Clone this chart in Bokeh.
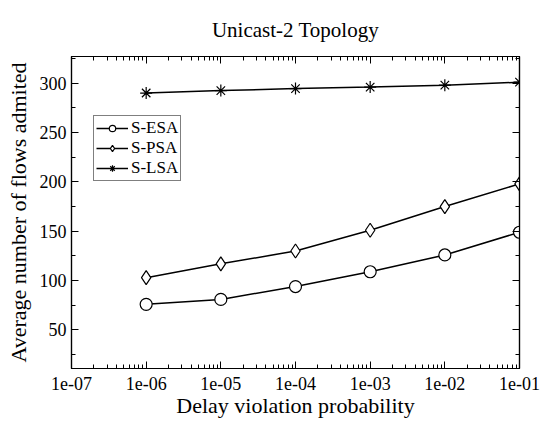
from bokeh.plotting import figure
from bokeh.models import (ColumnDataSource, LinearAxis, LogAxis, FixedTicker, Title,
                          SingleIntervalTicker, CustomJSTickFormatter, Legend, LegendItem, Range1d)
from bokeh.embed import file_html
from bokeh.resources import INLINE

# ---- data ----
x_values = [1e-6, 1e-5, 1e-4, 1e-3, 1e-2, 1e-1]
s_esa = [76, 81, 94, 109, 126, 149]
s_psa = [103, 117, 130, 151, 175, 198]
s_lsa = [290, 292.5, 294.5, 296, 298, 301]

x_ticks = [1e-7, 1e-6, 1e-5, 1e-4, 1e-3, 1e-2, 1e-1]
x_tick_labels = ["1e-07", "1e-06", "1e-05", "1e-04", "1e-03", "1e-02", "1e-01"]
y_ticks = [50, 100, 150, 200, 250, 300]

title_text = "Unicast-2 Topology"
x_label = "Delay violation probability"
y_label = "Average number of flows admited"
series_names = ["S-ESA", "S-PSA", "S-LSA"]

FONT = "Liberation Serif"

minor_x = [k * 10.0 ** e for e in range(-7, -1) for k in range(2, 10)]

p = figure(width=542, height=421, output_backend="svg", toolbar_location=None,
           x_axis_type="log", x_range=Range1d(1e-7, 1e-1), y_range=Range1d(11, 327),
           title=None,
           min_border_left=71, min_border_right=23, min_border_top=56, min_border_bottom=53)

p.outline_line_color = "black"
p.outline_line_width = 1.2
p.xgrid.visible = False
p.ygrid.visible = False
p.background_fill_color = "white"
p.border_fill_color = "white"

fmt = CustomJSTickFormatter(args=dict(tvals=x_ticks, tlabels=x_tick_labels), code="""
let best = 0, bd = 1e9;
for (let i = 0; i < tvals.length; i++) {
  const d = Math.abs(Math.log10(tvals[i]) - Math.log10(tick));
  if (d < bd) { bd = d; best = i; }
}
return tlabels[best];
""")
blank = CustomJSTickFormatter(code="return '';")

def style_axis(ax, show_labels=True):
    ax.axis_line_color = "black"
    ax.axis_line_width = 1.2
    ax.major_tick_in = 7
    ax.major_tick_out = 0
    ax.minor_tick_in = 4
    ax.minor_tick_out = 0
    ax.major_tick_line_color = "black"
    ax.minor_tick_line_color = "black"
    ax.major_label_text_font = FONT
    ax.major_label_text_font_size = "18px"
    ax.major_label_text_color = "black"
    ax.axis_label_text_font = FONT
    ax.axis_label_text_font_size = "22px"
    ax.axis_label_text_font_style = "normal"
    ax.axis_label_text_color = "black"
    if not show_labels:
        ax.formatter = blank
        ax.major_label_standoff = 0
        ax.axis_label_standoff = 0
        ax.major_label_text_font_size = "0px"

xt = FixedTicker(ticks=x_ticks, minor_ticks=minor_x)
yt = SingleIntervalTicker(interval=50, num_minor_ticks=2)

xa = p.xaxis[0]
xa.ticker = xt
xa.formatter = fmt
xa.axis_label = x_label
xa.major_label_standoff = 8
xa.axis_label_standoff = 0
style_axis(xa)

ya = p.yaxis[0]
ya.ticker = yt
ya.axis_label = y_label
ya.major_label_standoff = 5
ya.axis_label_standoff = 6
style_axis(ya)

top_ax = LogAxis(ticker=FixedTicker(ticks=x_ticks, minor_ticks=minor_x))
style_axis(top_ax, show_labels=False)
p.add_layout(top_ax, "above")
right_ax = LinearAxis(ticker=SingleIntervalTicker(interval=50, num_minor_ticks=2))
style_axis(right_ax, show_labels=False)
p.add_layout(right_ax, "right")

title = Title(text=title_text, align="center", text_font=FONT, text_font_size="21px",
              text_font_style="normal", text_color="black", standoff=30)
p.add_layout(title, "above")

src = ColumnDataSource(dict(x=x_values, esa=s_esa, psa=s_psa, lsa=s_lsa))

items = []
for col, marker, name in [("esa", "circle", series_names[0]),
                          ("psa", "diamond", series_names[1]),
                          ("lsa", "asterisk", series_names[2])]:
    l = p.line("x", col, source=src, line_color="black", line_width=1.5)
    size = 12 if marker != "diamond" else 14
    s = p.scatter("x", col, source=src, marker=marker, size=size,
                  line_color="black", fill_color="white", line_width=1.2)
    items.append(LegendItem(label=name, renderers=[l, s]))

legend = Legend(items=items, location=(22, 187))
legend.border_line_color = "black"
legend.border_line_width = 1.2
legend.label_text_font = FONT
legend.label_text_font_size = "17px"
legend.label_text_color = "black"
legend.label_standoff = 3
legend.glyph_width = 32
legend.glyph_height = 16
legend.label_height = 16
legend.spacing = 0
legend.padding = 2
legend.margin = 0
legend.background_fill_color = "white"
p.add_layout(legend, "center")

open("out.html", "w").write(file_html(p, INLINE))
